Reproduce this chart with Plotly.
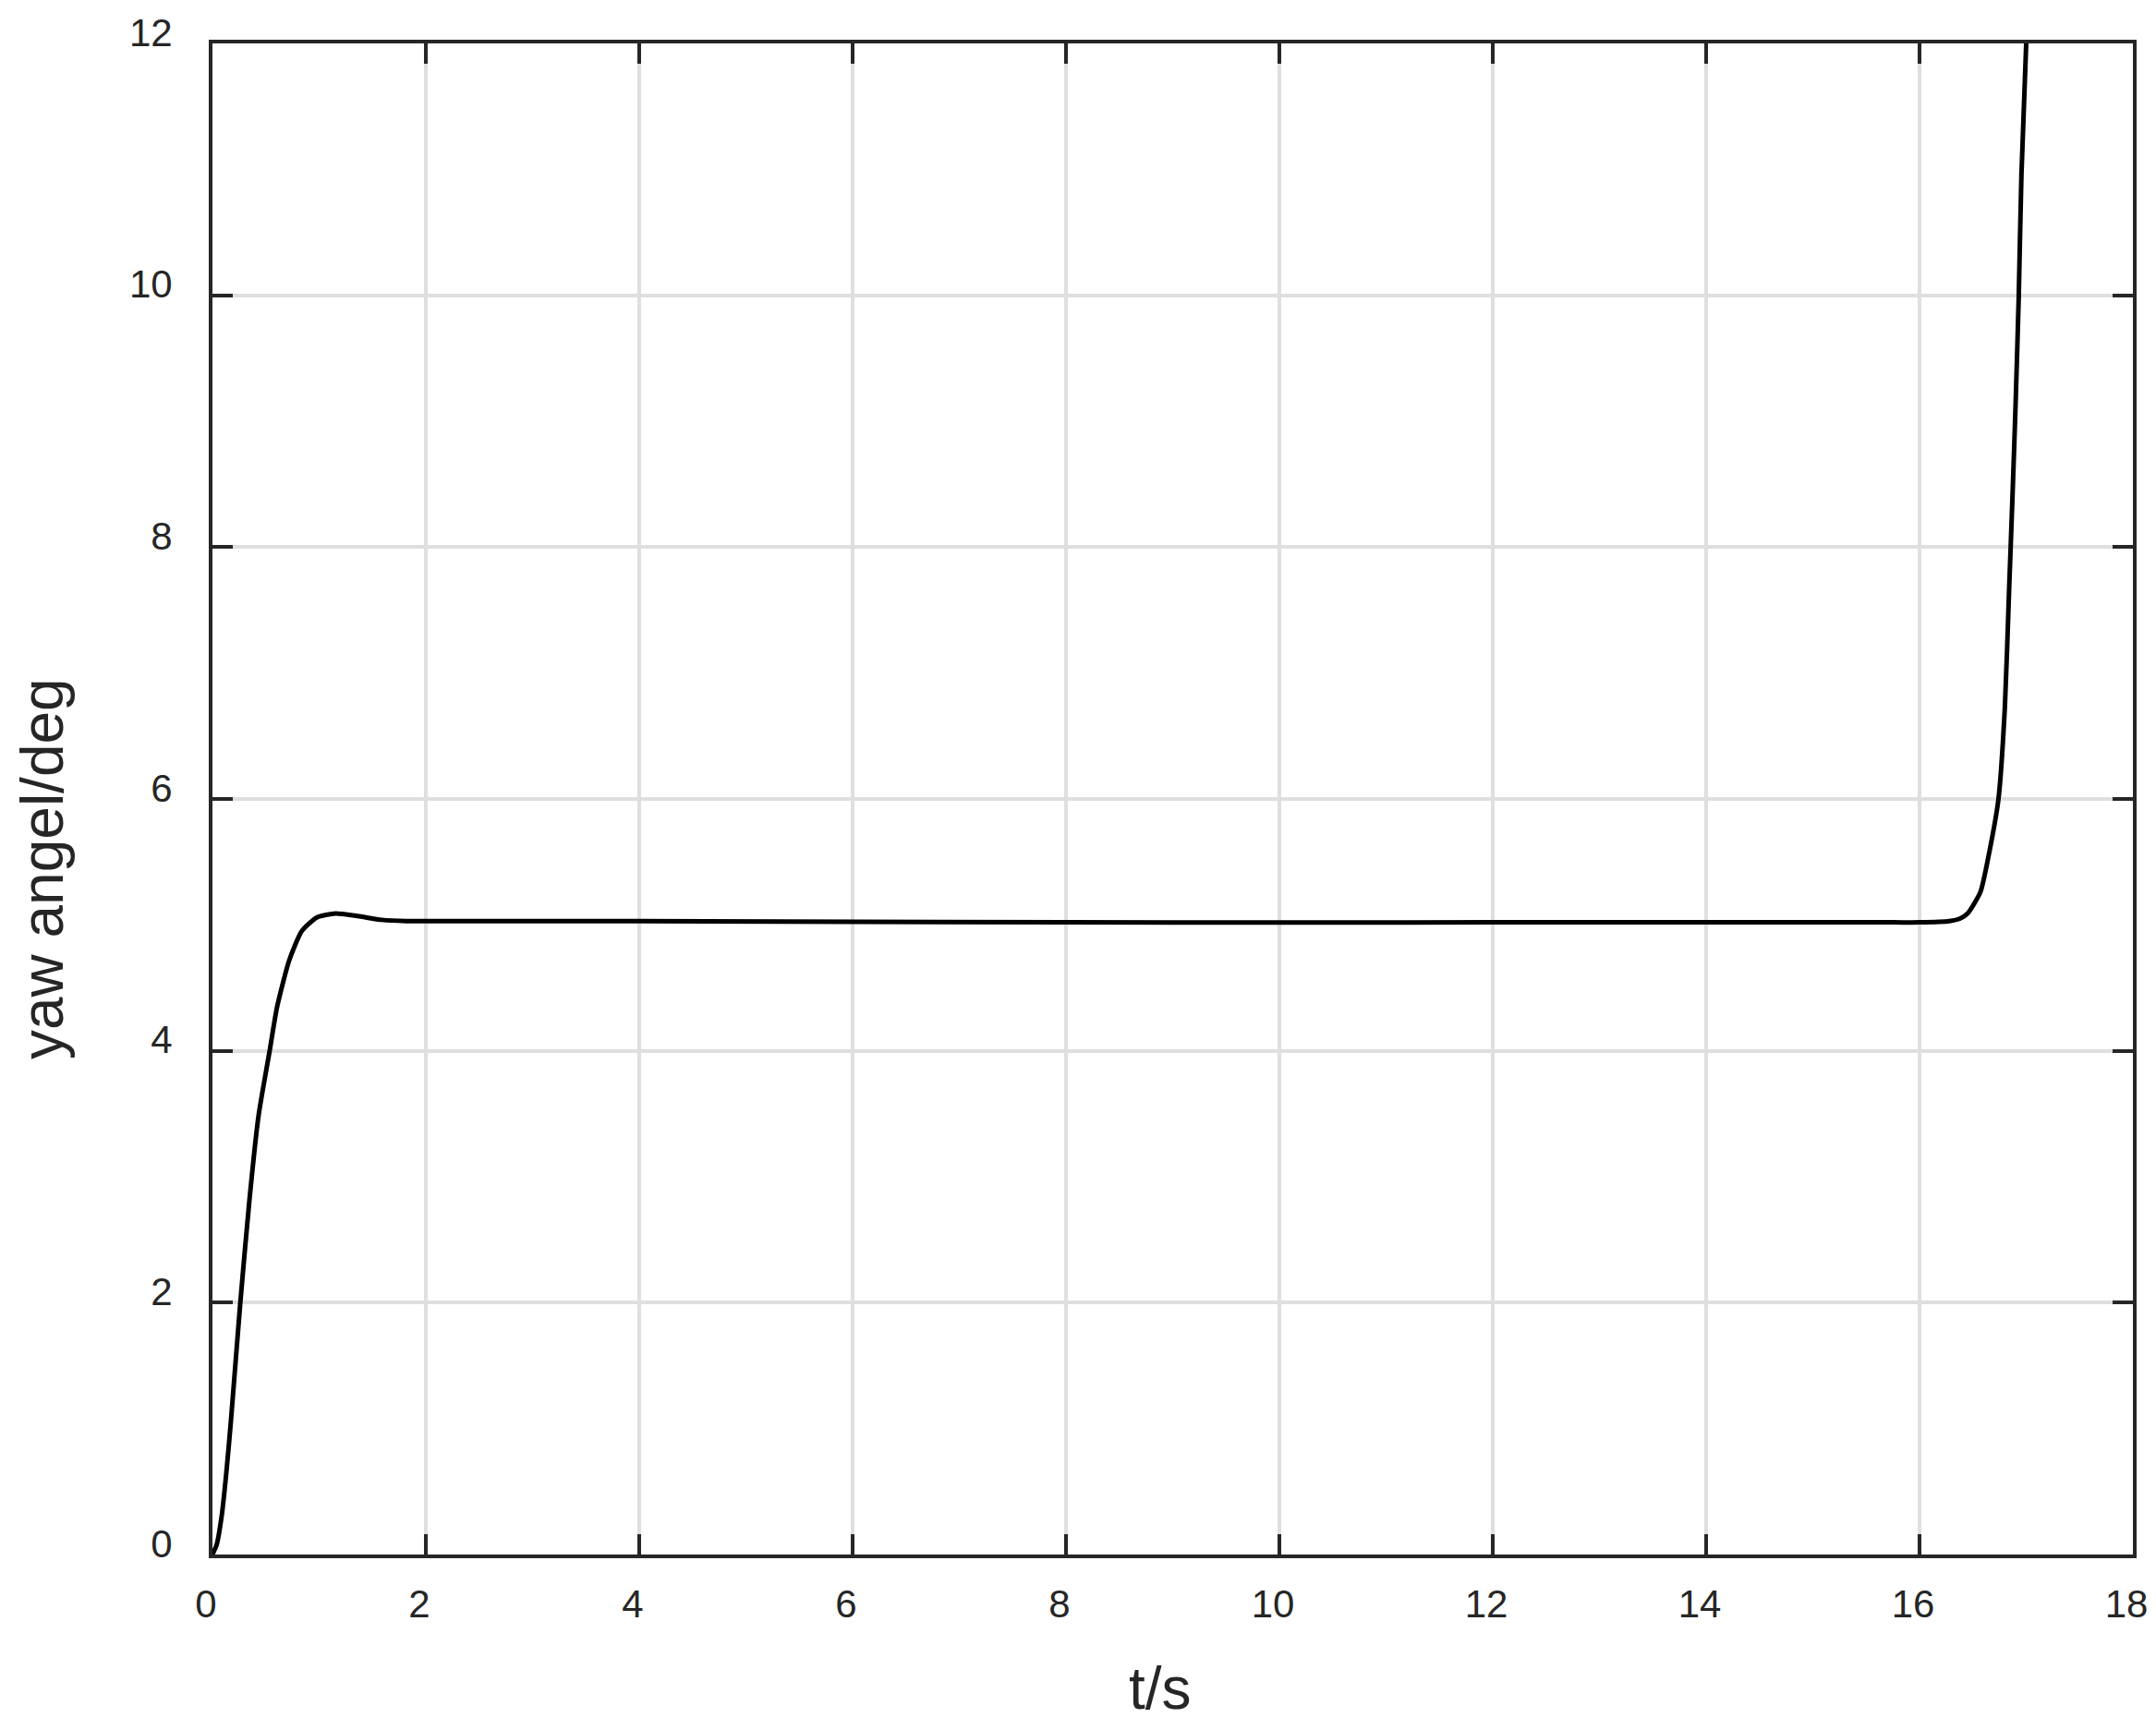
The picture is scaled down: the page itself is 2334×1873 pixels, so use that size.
import plotly.graph_objects as go

# time (s) and yaw angle (deg)
t_s = [0, 0.04, 0.087, 0.13, 0.173, 0.26, 0.346, 0.433, 0.534, 0.606, 0.72, 0.837,
       0.98, 1.154, 1.36, 1.587, 1.818, 2.0, 4.0, 8.0, 12.0, 15.76, 16.0, 16.28, 16.38,
       16.45, 16.57, 16.65, 16.74, 16.80, 16.84, 16.87, 16.90, 16.93, 16.955, 17.0]
yaw_deg = [0, 0.08, 0.31, 0.65, 1.06, 1.99, 2.81, 3.49, 3.99, 4.35, 4.72, 4.95,
           5.06, 5.09, 5.07, 5.04, 5.03, 5.03, 5.03, 5.02, 5.02, 5.02, 5.02, 5.03, 5.05,
           5.09, 5.26, 5.56, 6.0, 6.73, 7.67, 8.37, 9.12, 9.99, 10.95, 12.0]

x_ticks = [0, 2, 4, 6, 8, 10, 12, 14, 16, 18]
y_ticks = [0, 2, 4, 6, 8, 10, 12]

AX = "#262626"
FONT = "Liberation Sans, Arial, sans-serif"

fig = go.Figure()
fig.add_trace(go.Scatter(x=t_s, y=yaw_deg, mode="lines",
                         line=dict(color="#000000", width=5, shape="spline", smoothing=0.6),
                         showlegend=False, cliponaxis=True))

axis_common = dict(
    showline=True, linecolor=AX, linewidth=4, mirror="ticks",
    ticks="inside", ticklen=22, tickwidth=4, tickcolor=AX,
    showgrid=True, gridcolor="#dfdfdf", gridwidth=4,
    zeroline=False,
    tickfont=dict(family=FONT, size=42, color=AX),
)

fig.update_xaxes(range=[0, 18], tickvals=x_ticks, ticklabelstandoff=14, ticklabelshift=-7,
                 **axis_common)
fig.update_yaxes(range=[0, 12], tickvals=y_ticks, ticklabelstandoff=31, ticklabelshift=-12,
                 **axis_common)

fig.add_annotation(text="yaw angel/deg", xref="paper", yref="paper",
                   x=-0.0885, y=0.4535, xanchor="center", yanchor="middle",
                   textangle=-90, showarrow=False,
                   font=dict(family=FONT, size=64, color=AX))
fig.add_annotation(text="t/s", xref="paper", yref="paper",
                   x=0.4935, y=-0.0886, xanchor="center", yanchor="middle",
                   showarrow=False,
                   font=dict(family=FONT, size=64, color=AX))

fig.update_layout(
    width=2318, height=1857,
    margin=dict(l=222, r=17, t=39, b=182, autoexpand=False),
    plot_bgcolor="white", paper_bgcolor="white",
)

fig.write_html("out.html")
